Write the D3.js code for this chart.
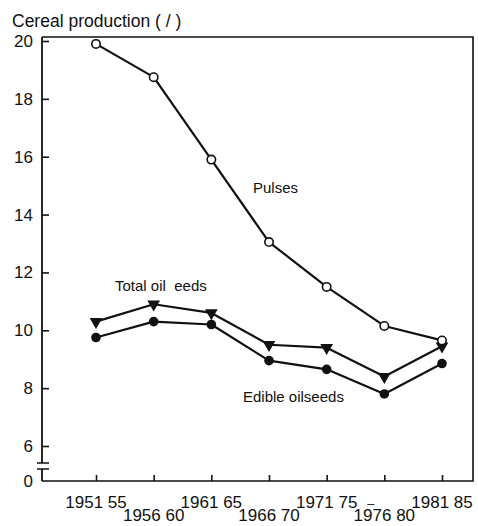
<!DOCTYPE html>
<html><head><meta charset="utf-8">
<script src="https://cdn.jsdelivr.net/npm/d3@7"></script>
<style>
body{margin:0;background:#fff;}
text{font-family:"Liberation Sans",Arial,Helvetica,sans-serif;fill:#111;}
</style></head>
<body>
<svg id="c" width="478" height="526"></svg>
<script>
const categories = ["1951-55","1956-60","1961-65","1966-70","1971-75","1976-80","1981-85"];
const tickLabels = ["1951 55","1956 60","1961 65","1966 70","1971 75","1976 80","1981 85"];
const pulses = [19.9, 18.75, 15.9, 13.05, 11.5, 10.15, 9.65];
const totalOilseeds = [10.3, 10.9, 10.6, 9.5, 9.4, 8.4, 9.45];
const edibleOilseeds = [9.75, 10.3, 10.2, 8.95, 8.65, 7.8, 8.85];
const yTicks = [6, 8, 10, 12, 14, 16, 18, 20];
const seriesNames = ["Pulses", "Total oil  eeds", "Edible oilseeds"];
const yTitle = "Cereal production ( / )";

const svg = d3.select("#c");
const mLeft = 42, mRight = 473, mTop = 37, mBottom = 481;
const x = d3.scalePoint().domain(categories).range([96, 442]);
const y = d3.scaleLinear().domain([6, 20]).range([446, 41]);

// frame
svg.append("path").attr("d", `M${mLeft},${mTop}H${mRight}V${mBottom}H${mLeft}`)
  .attr("fill","none").attr("stroke","#111").attr("stroke-width",1.6);
// broken left axis
svg.append("path").attr("d", `M${mLeft},${mTop}V463M${mLeft},469V${mBottom}`)
  .attr("fill","none").attr("stroke","#111").attr("stroke-width",1.8);
svg.append("path").attr("d", `M${mLeft-5},463H${mLeft+7}M${mLeft-5},469H${mLeft+7}`)
  .attr("fill","none").attr("stroke","#111").attr("stroke-width",1.6);

// y axis
const ya = svg.append("g").attr("transform",`translate(${mLeft},0)`)
  .call(d3.axisLeft(y).tickValues(yTicks).tickSize(-7).tickPadding(9));
ya.select(".domain").remove();
ya.selectAll(".tick line").attr("stroke","#111").attr("stroke-width",1.6);
ya.selectAll(".tick text").style("font-size","17px").attr("fill","#111");
svg.append("text").attr("x", mLeft-9).attr("y", mBottom+1).attr("dy","0.32em")
  .attr("text-anchor","end").style("font-size","17px").text("0");

// x axis
const xa = svg.append("g").attr("transform",`translate(0,${mBottom})`)
  .call(d3.axisBottom(x).tickSize(-6).tickFormat(""));
xa.select(".domain").remove();
xa.selectAll(".tick line").attr("stroke","#111").attr("stroke-width",1.6);
categories.forEach((c,i)=>{
  const t = svg.append("text").attr("x", x(c)).attr("y", i%2===0 ? 508 : 521)
    .attr("text-anchor","middle").style("font-size","17px").text(tickLabels[i]);
  if (i === 4) {
    const w = t.node().getComputedTextLength();
    svg.append("text").attr("x", x(c) + w/2 + 10).attr("y", 502)
      .style("font-size","12px").text("_");
  }
});

// title
svg.append("text").attr("x", 12).attr("y", 27).style("font-size","17.5px").text(yTitle);

const line = d3.line().x((d,i)=>x(categories[i])).y(d=>y(d));
[pulses, totalOilseeds, edibleOilseeds].forEach(s=>{
  svg.append("path").datum(s).attr("d", line).attr("fill","none")
    .attr("stroke","#111").attr("stroke-width",2.2).attr("stroke-linejoin","round");
});

// markers
svg.selectAll(".ed").data(edibleOilseeds).join("circle").attr("class","ed")
  .attr("cx",(d,i)=>x(categories[i])).attr("cy",d=>y(d)).attr("r",4.8).attr("fill","#111");
const tri = d3.symbol().type(d3.symbolTriangle).size(70);
svg.selectAll(".to").data(totalOilseeds).join("path").attr("class","to")
  .attr("d", tri)
  .attr("transform",(d,i)=>`translate(${x(categories[i])},${y(d)}) rotate(180)`)
  .attr("fill","#111");
svg.selectAll(".pu").data(pulses).join("circle").attr("class","pu")
  .attr("cx",(d,i)=>x(categories[i])).attr("cy",d=>y(d)).attr("r",4.2)
  .attr("fill","#fff").attr("stroke","#111").attr("stroke-width",1.6);

// series labels
svg.append("text").attr("x",253).attr("y",193).style("font-size","15px").text(seriesNames[0]);
svg.append("text").attr("x",115).attr("y",291).style("font-size","15px").style("white-space","pre").text(seriesNames[1]);
svg.append("text").attr("x",243).attr("y",402).style("font-size","15px").text(seriesNames[2]);
</script>
</body></html>
